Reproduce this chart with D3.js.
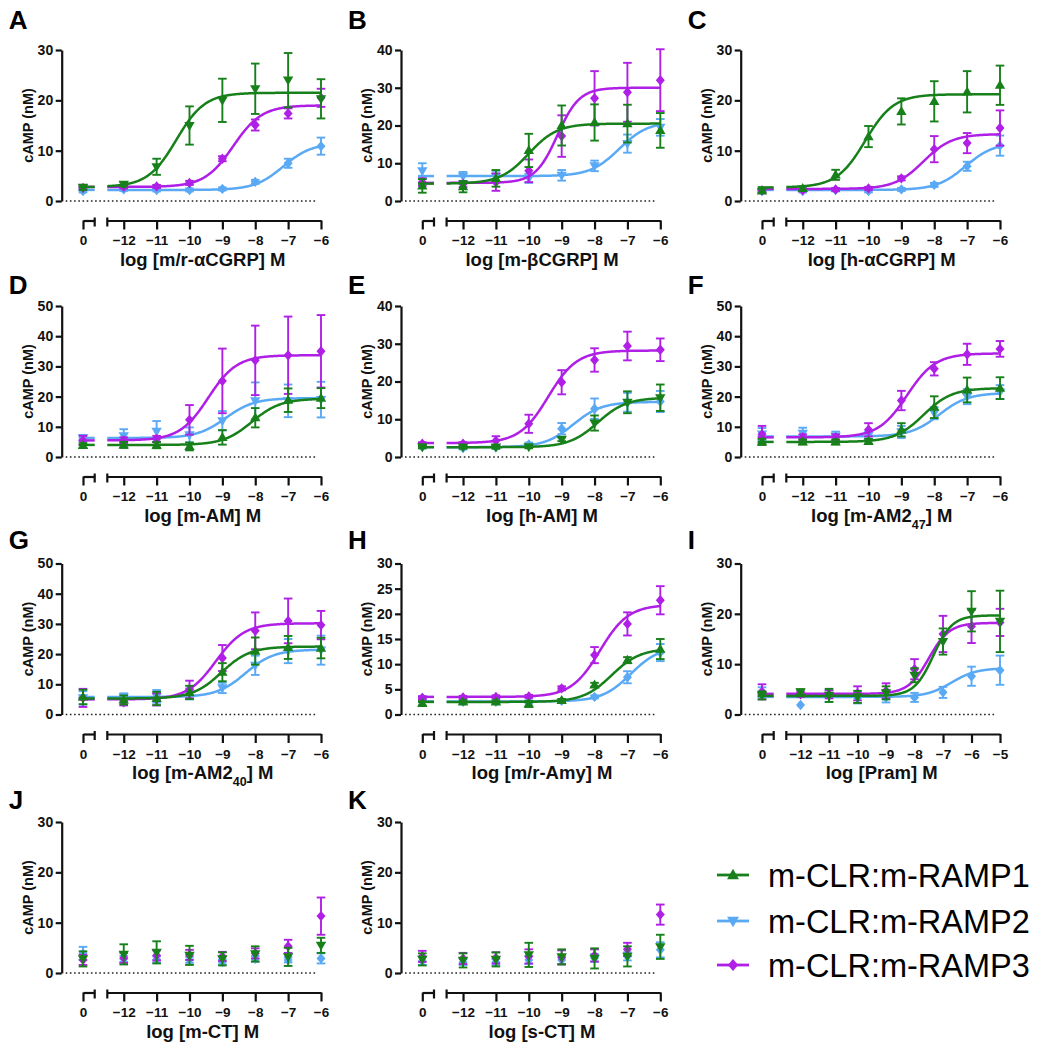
<!DOCTYPE html>
<html><head><meta charset="utf-8">
<script src="https://cdn.jsdelivr.net/npm/d3@7"></script>
<style>body{margin:0;background:#fff}svg{display:block}</style>
</head><body><svg id="c" width="1044" height="1050"></svg>
<script>
// ---------- DATA ----------
const seriesNames = ["m-CLR:m-RAMP1", "m-CLR:m-RAMP2", "m-CLR:m-RAMP3"];
const seriesColors = ["#18801a", "#5aa9f5", "#b01fe6"];
const doses7 = [-12, -11, -10, -9, -8, -7, -6];
const doses8 = [-12, -11, -10, -9, -8, -7, -6, -5];
// each mean/sem row: [basal (0), then one value per dose]; rows = RAMP1, RAMP2, RAMP3
// fit rows: [bottom, top, logEC50, hill]
const A_mean = [[2.7,3.3,6.8,15.0,20.0,22.3,24.0,20.3],[2.0,2.3,2.2,2.2,2.4,3.8,7.5,10.9],[2.6,2.8,2.9,3.6,8.4,15.1,17.4,20.5]];
const A_sem  = [[0.5,0.4,1.6,3.8,4.3,5.0,5.4,3.9],[0.3,0.3,0.3,0.3,0.3,0.4,0.9,1.7],[0.3,0.3,0.3,0.4,0.5,1.1,1.0,1.8]];
const A_fit  = [[2.8,21.5,-10.4,1],[2.2,11.5,-7.15,1],[2.8,19.0,-8.67,1]];
const A_shape = ["down","diamond","diamond"];

const B_mean = [[4.0,3.8,6.0,13.4,20.0,20.8,20.5,18.7],[8.0,6.5,6.5,6.0,6.8,9.3,15.2,19.5],[5.0,4.5,5.0,8.0,17.2,27.2,28.8,32.0]];
const B_sem  = [[1.8,1.5,2.2,4.4,5.3,4.8,5.0,4.6],[2.0,1.2,1.5,1.2,1.4,1.4,2.4,2.2],[1.0,0.8,2.3,3.0,5.5,7.2,7.8,8.2]];
const B_fit  = [[4.6,20.5,-10.0,1],[6.6,21.0,-7.25,1],[4.8,30.0,-9.13,1.3]];
const B_shape = ["up","down","diamond"];

const C_mean = [[2.0,2.5,5.2,12.8,17.8,19.8,21.7,23.0],[2.0,2.0,2.2,2.0,2.3,3.2,6.9,11.0],[2.1,2.2,2.3,2.5,4.5,10.3,11.5,14.5]];
const C_sem  = [[0.4,0.4,1.0,2.1,2.6,4.0,4.1,3.9],[0.3,0.3,0.3,0.3,0.3,0.4,0.9,2.0],[0.3,0.3,0.3,0.3,0.4,2.6,2.0,3.5]];
const C_fit  = [[2.7,21.2,-10.1,1],[2.2,11.6,-7.05,1],[2.4,13.3,-8.33,1]];
const C_shape = ["up","diamond","diamond"];

const D_mean = [[3.8,4.0,3.9,3.5,6.5,13.0,18.8,19.5],[6.3,7.0,8.5,7.3,12.0,18.6,18.6,19.0],[5.5,5.5,6.0,12.3,25.2,32.0,33.7,35.0]];
const D_sem  = [[0.8,1.0,1.0,1.3,2.4,3.2,3.9,3.3],[1.0,2.2,3.4,2.5,3.2,6.1,5.4,5.9],[1.5,1.0,1.0,4.9,10.7,11.5,12.8,12.0]];
const D_fit  = [[4.0,19.3,-8.1,1],[6.3,19.5,-8.9,1],[5.5,33.7,-9.43,1]];
const D_shape = ["up","down","diamond"];

const E_mean = [[2.7,2.6,2.6,2.7,4.7,9.0,14.5,15.7],[2.7,2.4,2.6,3.3,7.5,12.8,14.5,14.7],[3.5,3.5,4.3,8.8,19.8,25.7,29.4,28.4]];
const E_sem  = [[0.4,0.4,0.4,0.4,0.5,2.0,2.9,3.5],[0.4,0.4,0.4,0.5,1.5,2.7,2.5,2.8],[0.4,0.4,1.2,2.4,3.2,3.1,3.8,3.0]];
const E_fit  = [[2.6,15.7,-7.9,1],[2.6,14.6,-8.65,1],[3.7,28.2,-9.41,1]];
const E_shape = ["down","diamond","diamond"];

const F_mean = [[5.0,5.0,5.0,5.2,9.0,16.5,22.2,22.8],[7.6,7.8,6.9,7.2,8.3,14.5,20.0,21.5],[7.5,6.5,6.5,9.0,18.7,29.2,34.0,35.8]];
const F_sem  = [[1.0,0.8,0.8,0.8,2.2,3.6,4.1,3.6],[2.0,1.9,1.5,1.2,2.0,2.0,2.5,2.3],[2.8,1.0,1.0,2.2,3.2,2.2,3.5,2.6]];
const F_fit  = [[5.0,22.8,-8.33,1],[6.8,21.2,-7.85,1],[6.5,34.3,-8.83,1]];
const F_shape = ["up","down","diamond"];

const G_mean = [[5.8,4.8,5.3,7.3,14.0,21.0,22.2,22.0],[5.5,5.8,6.0,6.8,8.8,16.3,21.0,21.3],[5.5,4.0,5.0,8.3,18.7,27.7,31.0,29.6]];
const G_sem  = [[2.4,1.5,2.2,2.2,3.0,4.5,3.8,3.4],[2.2,1.2,2.1,1.8,1.7,3.2,4.0,4.8],[3.0,1.0,2.0,2.9,4.3,6.1,7.4,4.7]];
const G_fit  = [[5.3,22.5,-9.03,1],[5.8,21.5,-8.3,1],[5.0,30.2,-9.2,1]];
const G_shape = ["up","down","diamond"];

const H_mean = [[2.2,2.5,2.5,2.1,2.8,5.9,10.8,13.0],[3.3,2.5,2.5,2.5,2.7,3.5,7.4,12.3],[3.3,3.4,3.5,3.6,5.2,11.8,18.0,22.7]];
const H_sem  = [[0.4,0.3,0.3,0.6,0.3,0.4,0.6,2.0],[0.3,0.3,0.3,0.3,0.3,0.3,1.2,1.7],[0.3,0.3,0.3,0.3,0.4,1.6,2.3,2.8]];
const H_fit  = [[2.5,13.1,-7.48,1],[2.6,13.5,-6.9,1],[3.5,21.8,-7.84,1]];
const H_shape = ["up","diamond","diamond"];

const I_mean = [[3.8,4.5,3.8,3.5,4.3,7.8,14.5,20.5,18.5],[4.5,1.9,3.7,3.3,3.4,3.4,4.4,7.6,8.8],[4.5,4.0,4.0,4.2,4.7,9.0,16.0,17.5,18.3]];
const I_sem  = [[0.8,0.5,1.3,1.2,1.3,1.4,2.6,4.0,6.1],[0.9,0,1.2,1.1,1.0,0.9,1.1,1.9,2.9],[1.5,0.5,0.8,1.4,1.5,2.0,3.6,3.3,2.7]];
const I_fit  = [[3.7,19.7,-7.34,1.3],[3.5,9.2,-6.7,1],[4.1,18.2,-7.5,1.2]];
const I_shape = ["down","diamond","diamond"];

const J_mean = [[2.8,3.7,4.1,3.5,2.8,3.8,3.2,5.5],[3.9,2.8,2.7,2.6,2.2,2.8,2.6,2.9],[2.6,3.0,3.5,3.6,3.3,3.9,5.3,11.3]];
const J_sem  = [[1.5,2.0,2.2,1.9,1.3,1.5,1.8,1.5],[1.3,0.6,0.6,0.6,0.5,0.6,0.5,1.0],[1.0,1.0,1.0,1.0,0.9,1.0,1.3,3.7]];
const J_shape = ["down","diamond","diamond"];

const K_mean = [[2.7,2.5,2.7,3.6,3.2,2.9,3.3,5.2],[2.4,2.2,2.2,2.6,2.6,3.0,3.3,4.6],[3.3,2.9,3.0,3.3,3.1,3.5,4.7,11.6]];
const K_sem  = [[1.2,1.4,1.4,2.4,1.5,2.0,2.0,2.4],[0.8,0.6,0.6,0.8,0.8,0.8,0.8,1.5],[1.1,1.1,1.1,1.4,1.4,1.2,1.3,2.0]];
const K_shape = ["down","diamond","diamond"];

const xTitles = {
  A: [["log [m/r-αCGRP] M"]], B: [["log [m-βCGRP] M"]], C: [["log [h-αCGRP] M"]],
  D: [["log [m-AM] M"]], E: [["log [h-AM] M"]], F: [["log [m-AM2"],["47","sub"],["] M"]],
  G: [["log [m-AM2"],["40","sub"],["] M"]], H: [["log [m/r-Amy] M"]], I: [["log [Pram] M"]],
  J: [["log [m-CT] M"]], K: [["log [s-CT] M"]]
};
const yTitle = "cAMP (nM)";

// ---------- LAYOUT ----------
const colX = [61.7, 401, 740.7];
const rowTop = [50, 306, 563.5, 822];
const letterBase = [28.5, 293.5, 548.5, 808.5];
const plotH = 151;
const FONT = "'Liberation Sans', Arial, Helvetica, sans-serif";

const panels = [
  {id:"A",col:0,row:0,ymax:30,ystep:10,doses:doses7,mean:A_mean,sem:A_sem,fit:A_fit,shape:A_shape},
  {id:"B",col:1,row:0,ymax:40,ystep:10,doses:doses7,mean:B_mean,sem:B_sem,fit:B_fit,shape:B_shape},
  {id:"C",col:2,row:0,ymax:30,ystep:10,doses:doses7,mean:C_mean,sem:C_sem,fit:C_fit,shape:C_shape},
  {id:"D",col:0,row:1,ymax:50,ystep:10,doses:doses7,mean:D_mean,sem:D_sem,fit:D_fit,shape:D_shape},
  {id:"E",col:1,row:1,ymax:40,ystep:10,doses:doses7,mean:E_mean,sem:E_sem,fit:E_fit,shape:E_shape},
  {id:"F",col:2,row:1,ymax:50,ystep:10,doses:doses7,mean:F_mean,sem:F_sem,fit:F_fit,shape:F_shape},
  {id:"G",col:0,row:2,ymax:50,ystep:10,doses:doses7,mean:G_mean,sem:G_sem,fit:G_fit,shape:G_shape},
  {id:"H",col:1,row:2,ymax:30,ystep:5,doses:doses7,mean:H_mean,sem:H_sem,fit:H_fit,shape:H_shape},
  {id:"I",col:2,row:2,ymax:30,ystep:10,doses:doses8,mean:I_mean,sem:I_sem,fit:I_fit,shape:I_shape},
  {id:"J",col:0,row:3,ymax:30,ystep:10,doses:doses7,mean:J_mean,sem:J_sem,fit:null,shape:J_shape},
  {id:"K",col:1,row:3,ymax:30,ystep:10,doses:doses7,mean:K_mean,sem:K_sem,fit:null,shape:K_shape}
];

const svg = d3.select("#c");
const drawOrder = [1, 2, 0];

function markerPath(shape, s) {
  const w = 5.2 * s, h = 9 * s;
  if (shape === "up") return `M0,${-h*0.6}L${w},${h*0.4}L${-w},${h*0.4}Z`;
  if (shape === "down") return `M0,${h*0.6}L${w},${-h*0.4}L${-w},${-h*0.4}Z`;
  const dw = 4.5 * s, dh = 5.2 * s;
  return `M0,${-dh}L${dw},0L0,${dh}L${-dw},0Z`;
}
function logistic(f, x) { return f[0] + (f[1] - f[0]) / (1 + Math.pow(10, f[3] * (f[2] - x))); }

function drawPanel(p) {
  const ax = colX[p.col], top = rowTop[p.row], bot = top + plotH;
  const g = svg.append("g");
  const last = p.doses[p.doses.length - 1];
  const y = d3.scaleLinear().domain([0, p.ymax]).range([bot, top]);
  const x = d3.scaleLinear().domain([-12.5, last]).range([ax + 45.6, ax + 259.3]);
  const x0 = d3.scaleLinear().domain([0, 1]).range([ax + 21.3, ax + 33]);
  const xAxisY = bot + 19.5;

  // panel letter
  g.append("text").attr("x", ax - 53).attr("y", letterBase[p.row]).text(p.id)
    .attr("font-family", FONT).attr("font-weight", "bold").attr("font-size", 26).attr("fill", "#000");

  // y axis
  const yAx = g.append("g").attr("transform", `translate(${ax},0)`)
    .call(d3.axisLeft(y).tickValues(d3.range(0, p.ymax + 0.001, p.ystep)).tickSize(6).tickSizeOuter(0).tickPadding(2.5));
  yAx.selectAll("path,line").attr("stroke", "#111").attr("stroke-width", 2.2);
  yAx.selectAll("text").attr("font-family", FONT).attr("font-weight", "bold").attr("font-size", 14).attr("fill", "#111");

  g.append("text").attr("transform", `translate(${ax - 34},${(top + bot) / 2}) rotate(-90)`)
    .attr("text-anchor", "middle").attr("dy", "0.35em").text(yTitle)
    .attr("font-family", FONT).attr("font-weight", "bold").attr("font-size", 14.5).attr("fill", "#111");

  // dotted zero line
  g.append("line").attr("x1", ax + 4).attr("x2", ax + 255).attr("y1", y(0)).attr("y2", y(0))
    .attr("stroke", "#222").attr("stroke-width", 1.6).attr("stroke-dasharray", "1.6,2.6");

  // x axes (broken)
  const xa0 = g.append("g").attr("transform", `translate(0,${xAxisY})`)
    .call(d3.axisBottom(x0).tickValues([0]).tickFormat(d3.format("d")).tickSize(9).tickSizeOuter(0).tickPadding(6));
  const xa1 = g.append("g").attr("transform", `translate(0,${xAxisY})`)
    .call(d3.axisBottom(x).tickValues(p.doses).tickFormat(d3.format("d")).tickSize(9).tickSizeOuter(0).tickPadding(6));
  [xa0, xa1].forEach(a => {
    a.selectAll("path,line").attr("stroke", "#111").attr("stroke-width", 2.2);
    a.selectAll("text").attr("font-family", FONT).attr("font-weight", "bold").attr("font-size", 13.5).attr("fill", "#111");
  });
  [x0.range()[1], x.range()[0]].forEach(cx => {
    g.append("line").attr("x1", cx).attr("x2", cx).attr("y1", xAxisY - 3).attr("y2", xAxisY + 6)
      .attr("stroke", "#111").attr("stroke-width", 2.2);
  });
  const tt = g.append("text").attr("x", ax + 141).attr("y", xAxisY + 45).attr("text-anchor", "middle")
    .attr("font-family", FONT).attr("font-weight", "bold").attr("font-size", 18.5).attr("fill", "#111");
  xTitles[p.id].forEach(part => {
    const ts = tt.append("tspan").text(part[0]);
    if (part[1] === "sub") ts.attr("font-size", 12.5).attr("baseline-shift", "sub");
  });

  // series
  drawOrder.forEach(si => {
    const col = seriesColors[si];
    const sg = g.append("g");
    if (p.fit) {
      const f = p.fit[si];
      const pts = d3.range(-12.5, last + 0.0001, 0.02).map(v => [v, logistic(f, v)]);
      sg.append("path").attr("d", d3.line().x(d => x(d[0])).y(d => y(d[1])).curve(d3.curveLinear)(pts))
        .attr("fill", "none").attr("stroke", col).attr("stroke-width", 2.5);
      sg.append("line").attr("x1", ax + 17).attr("x2", x0.range()[1]).attr("y1", y(f[0])).attr("y2", y(f[0]))
        .attr("stroke", col).attr("stroke-width", 2.5);
    }
    const pts = p.mean[si].map((m, i) => ({
      px: i === 0 ? x0(0) : x(p.doses[i - 1]), m: m, e: p.sem[si][i]
    }));
    pts.forEach(d => {
      if (d.e > 0) {
        const y1 = y(d.m + d.e), y2 = y(Math.max(0, d.m - d.e));
        sg.append("line").attr("x1", d.px).attr("x2", d.px).attr("y1", y1).attr("y2", y2).attr("stroke", col).attr("stroke-width", 1.9);
        [y1, y2].forEach(yy => sg.append("line").attr("x1", d.px - 4.3).attr("x2", d.px + 4.3).attr("y1", yy).attr("y2", yy)
          .attr("stroke", col).attr("stroke-width", 1.9));
      }
      sg.append("path").attr("d", markerPath(p.shape[si], 1)).attr("transform", `translate(${d.px},${y(d.m)})`).attr("fill", col);
    });
  });
}
panels.forEach(drawPanel);

// legend
const legendShapes = ["up", "down", "diamond"];
const legendY = [875, 921, 965];
seriesNames.forEach((name, i) => {
  const g = svg.append("g").attr("transform", `translate(0,${legendY[i]})`);
  g.append("line").attr("x1", 717).attr("x2", 749).attr("y1", 0).attr("y2", 0).attr("stroke", seriesColors[i]).attr("stroke-width", 2.8);
  g.append("path").attr("d", markerPath(legendShapes[i], 1.15)).attr("transform", "translate(733,0)").attr("fill", seriesColors[i]);
  g.append("text").attr("x", 768).attr("y", 11.5).text(name)
    .attr("font-family", FONT).attr("font-size", 32.5).attr("fill", "#000");
});
</script></body></html>
